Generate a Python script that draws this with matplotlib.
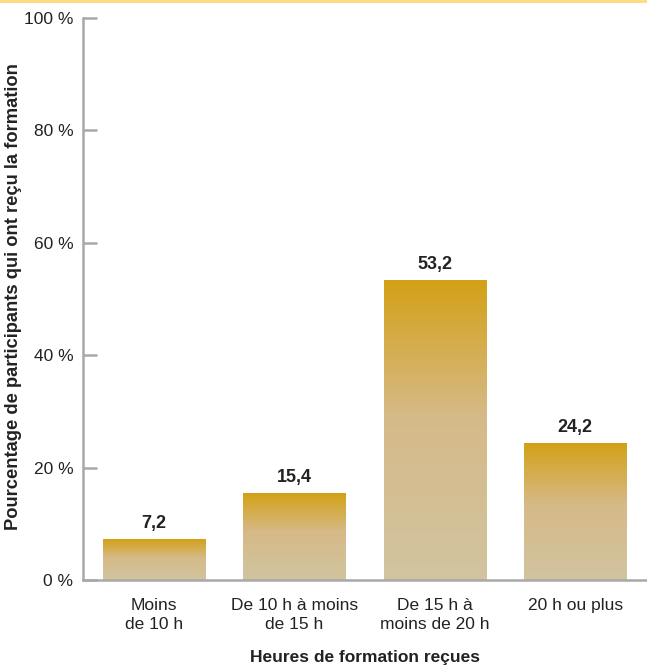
import numpy as np
import matplotlib.pyplot as plt
from matplotlib.colors import LinearSegmentedColormap
from matplotlib.lines import Line2D

plt.rcParams['font.family'] = ['Liberation Sans', 'DejaVu Sans']

categories = ['Moins\nde 10 h', 'De 10 h à moins\nde 15 h', 'De 15 h à\nmoins de 20 h', '20 h ou plus']
values = [7.2, 15.4, 53.2, 24.2]
value_labels = ['7,2', '15,4', '53,2', '24,2']
yticks = [0, 20, 40, 60, 80, 100]

# bar fill: gold at the top fading to beige at the base
bar_cmap = LinearSegmentedColormap.from_list(
    'bar', [(0.0, '#D3A116'), (0.45, '#D6BA88'), (1.0, '#D1C4A0')])

fig = plt.figure(figsize=(6.47, 6.66), dpi=100)
ax = fig.add_axes([0.1283, 0.1291, 0.8717, 0.8439])

width = 0.726
x = np.arange(len(categories))
grad = np.linspace(0, 1, 512).reshape(-1, 1)
for xi, v, lab in zip(x, values, value_labels):
    ax.imshow(grad, cmap=bar_cmap, aspect='auto', origin='upper',
              interpolation='bilinear',
              extent=[xi - width / 2, xi + width / 2, 0, v], zorder=2)
    ax.text(xi, v + 1.4, lab, ha='center', va='bottom',
            fontsize=13, fontweight='bold', color='#222222')

ax.set_xlim(-0.502, 3.51)
ax.set_ylim(0, 100)

ax.set_xticks(x)
ax.set_xticklabels(categories, fontsize=12.5, color='#222222', linespacing=1.3)
ax.set_yticks(yticks)
ax.set_yticklabels([f'{t} %' for t in yticks], fontsize=12.5, color='#222222')

ax.tick_params(axis='x', length=0, pad=13)
ax.tick_params(axis='y', direction='in', length=10, width=1.8,
               color='#A8A8A8', pad=7)

for side in ['top', 'right']:
    ax.spines[side].set_visible(False)
for side in ['left', 'bottom']:
    ax.spines[side].set_color('#A8A8A8')
    ax.spines[side].set_linewidth(1.8)

ax.set_ylabel('Pourcentage de participants qui ont reçu la formation',
              fontsize=13.2, fontweight='bold', color='#222222', va='center')
ax.yaxis.set_label_coords(-0.124, 0.505)
ax.set_xlabel('Heures de formation reçues', fontsize=12.5,
              fontweight='bold', color='#222222', labelpad=13.5)

# thin rule along the top edge
fig.add_artist(Line2D([0, 1], [0.998, 0.998], transform=fig.transFigure,
                      color='#FFD97A', linewidth=2))

fig.savefig('out.png', dpi=100)
